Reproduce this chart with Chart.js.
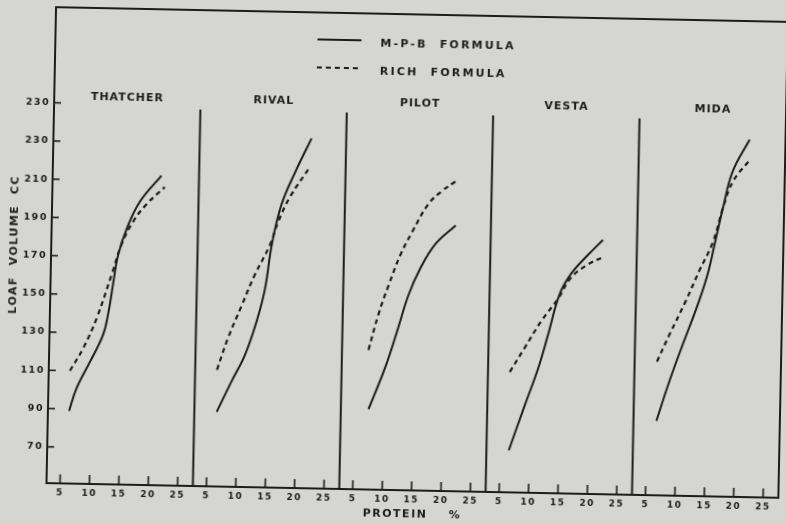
<!DOCTYPE html>
<html>
<head>
<meta charset="utf-8">
<script src="https://cdn.jsdelivr.net/npm/chart.js@4"></script>
<style>
  html, body { margin: 0; padding: 0; background: #d5d5d1; overflow: hidden; }
  #chart { display: block; transform: rotate(1.15deg); }
</style>
</head>
<body>
<canvas id="chart" width="786" height="523"></canvas>
<script>
// varieties, one panel each
const varieties = ['THATCHER', 'RIVAL', 'PILOT', 'VESTA', 'MIDA'];
const xTickValues = [5, 10, 15, 20, 25];
const yTickValues = [70, 90, 110, 130, 150, 170, 190, 210, 230, 250];
const yTickLabels = ['70', '90', '110', '130', '150', '170', '190', '210', '230', '230'];

// M-P-B formula (solid), protein % and loaf volume cc per variety
const mpbProtein = [
    [6.3, 7.5, 9.7, 11.8, 12.6, 13.4, 14.1, 15.5, 17.6, 21.2],
    [6.5, 8.9, 11.1, 13.0, 14.3, 15.3, 16.8, 19.0, 21.7],
    [7.4, 10.1, 12.0, 13.8, 15.7, 18.2, 21.6],
    [6.5, 9.1, 11.2, 12.8, 14.6, 16.5, 19.3, 21.8],
    [6.6, 8.7, 10.8, 13.0, 14.8, 16.1, 17.2, 18.7, 21.5]
];
const mpbVolume = [
    [89, 101, 115, 129, 140, 157, 171, 185, 199, 213],
    [90, 106, 120, 138, 155, 178, 199, 216, 234],
    [93, 115, 134, 153, 167, 180, 190],
    [73, 97, 116, 134, 155, 166, 176, 184],
    [90, 111, 130, 149, 167, 186, 202, 221, 238]
];

// Rich formula (dashed)
const richProtein = [
    [6.3, 8.5, 10.7, 13.1, 14.7, 16.6, 18.8, 21.8],
    [6.4, 8.2, 10.4, 12.5, 15.0, 16.3, 18.2, 21.5],
    [7.2, 8.8, 10.4, 12.3, 14.2, 16.9, 19.2, 21.4],
    [6.4, 8.9, 11.6, 14.4, 16.5, 19.3, 21.9],
    [6.5, 8.5, 11.2, 13.4, 15.6, 17.2, 18.8, 21.5]
];
const richVolume = [
    [110, 122, 138, 161, 177, 189, 198, 207],
    [112, 129, 146, 162, 178, 190, 203, 219],
    [124, 143, 158, 174, 186, 201, 208, 213],
    [114, 127, 141, 153, 164, 171, 175],
    [121, 135, 153, 169, 184, 202, 216, 227]
];

const INK = '#1c1c1c';
const SPAN = 24.9;   // protein range shown in each panel
const X0 = 2.7;      // protein value at the left edge of a panel
const DIVIDER_TOP = 248;

function panelPoints(i, xs, ys) {
    return xs.map((p, k) => ({ x: i * SPAN + p - X0, y: ys[k] }));
}

const datasets = [];
varieties.forEach((name, i) => {
    datasets.push({
        label: 'M-P-B  FORMULA',
        data: panelPoints(i, mpbProtein[i], mpbVolume[i]),
        borderColor: INK, borderWidth: 2, pointRadius: 0,
        tension: 0.4, fill: false
    });
    datasets.push({
        label: 'RICH  FORMULA',
        data: panelPoints(i, richProtein[i], richVolume[i]),
        borderColor: INK, borderWidth: 2.2, borderDash: [5, 4], pointRadius: 0,
        tension: 0.4, fill: false
    });
});

const framePlugin = {
    id: 'frame',
    beforeDraw(chart) {
        chart.ctx.letterSpacing = '1.5px';
    },
    afterDatasetsDraw(chart) {
        const { ctx, chartArea: a, scales: { x, y } } = chart;
        ctx.save();
        ctx.strokeStyle = INK;
        ctx.fillStyle = INK;
        ctx.lineWidth = 2;
        ctx.setLineDash([]);
        ctx.strokeRect(a.left, a.top, a.right - a.left, a.bottom - a.top);

        // panel dividers
        for (let i = 1; i < varieties.length; i++) {
            const px = x.getPixelForValue(i * SPAN);
            ctx.beginPath();
            ctx.moveTo(px, y.getPixelForValue(DIVIDER_TOP));
            ctx.lineTo(px, a.bottom);
            ctx.stroke();
        }

        // inward tick marks
        ctx.lineWidth = 1.6;
        y.ticks.forEach(t => {
            const py = y.getPixelForValue(t.value);
            ctx.beginPath();
            ctx.moveTo(a.left, py);
            ctx.lineTo(a.left + 7, py);
            ctx.stroke();
        });
        x.ticks.forEach(t => {
            const px = x.getPixelForValue(t.value);
            ctx.beginPath();
            ctx.moveTo(px, a.bottom);
            ctx.lineTo(px, a.bottom - 9);
            ctx.stroke();
        });

        // panel names
        ctx.font = 'bold 11px "DejaVu Sans"';
        ctx.letterSpacing = '1px';
        ctx.textAlign = 'center';
        ctx.textBaseline = 'middle';
        varieties.forEach((name, i) => {
            ctx.fillText(name, x.getPixelForValue(i * SPAN + SPAN / 2), 103);
        });

        // legend
        ctx.lineWidth = 2;
        ctx.beginPath();
        ctx.moveTo(313, 41);
        ctx.lineTo(357, 41);
        ctx.stroke();
        ctx.setLineDash([5, 4]);
        ctx.lineWidth = 2.2;
        ctx.beginPath();
        ctx.moveTo(313, 69);
        ctx.lineTo(355, 69);
        ctx.stroke();
        ctx.setLineDash([]);
        ctx.letterSpacing = '2.2px';
        ctx.textAlign = 'left';
        ctx.fillText(datasets[0].label, 376, 44);
        ctx.fillText(datasets[1].label, 376, 72);
        ctx.restore();
    }
};

new Chart(document.getElementById('chart').getContext('2d'), {
    type: 'line',
    data: { datasets },
    plugins: [framePlugin],
    options: {
        responsive: false,
        animation: false,
        devicePixelRatio: 1,
        layout: { padding: { top: 14, right: 3, left: 0, bottom: 0 } },
        plugins: { legend: { display: false }, tooltip: { enabled: false } },
        scales: {
            x: {
                type: 'linear',
                min: 0,
                max: varieties.length * SPAN,
                grid: { display: false, drawTicks: false },
                border: { display: false },
                afterBuildTicks: s => {
                    s.ticks = [];
                    varieties.forEach((n, i) => {
                        xTickValues.forEach(v => s.ticks.push({ value: i * SPAN + v - X0 }));
                    });
                },
                afterFit: s => { s.height = 33; },
                ticks: {
                    autoSkip: false, maxRotation: 0, padding: 4, color: INK,
                    font: { family: 'DejaVu Sans', size: 9, weight: 'bold' },
                    callback: (v, idx) => String(xTickValues[idx % xTickValues.length])
                },
                title: {
                    display: true, text: 'PROTEIN    %', color: INK,
                    font: { family: 'DejaVu Sans', size: 11, weight: 'bold' },
                    padding: { top: 2, bottom: 2 }
                }
            },
            y: {
                min: 51,
                max: 300,
                grid: { display: false, drawTicks: false },
                border: { display: false },
                afterBuildTicks: s => { s.ticks = yTickValues.map(v => ({ value: v })); },
                afterFit: s => { s.width = 51; },
                ticks: {
                    autoSkip: false, padding: 4, color: INK,
                    font: { family: 'DejaVu Sans', size: 9.5, weight: 'bold' },
                    callback: (v, idx) => yTickLabels[idx]
                },
                title: {
                    display: true, text: 'LOAF  VOLUME  CC', color: INK,
                    font: { family: 'DejaVu Sans', size: 11, weight: 'bold' },
                    padding: { top: 8, bottom: 0 }
                }
            }
        }
    }
});
</script>
</body>
</html>
